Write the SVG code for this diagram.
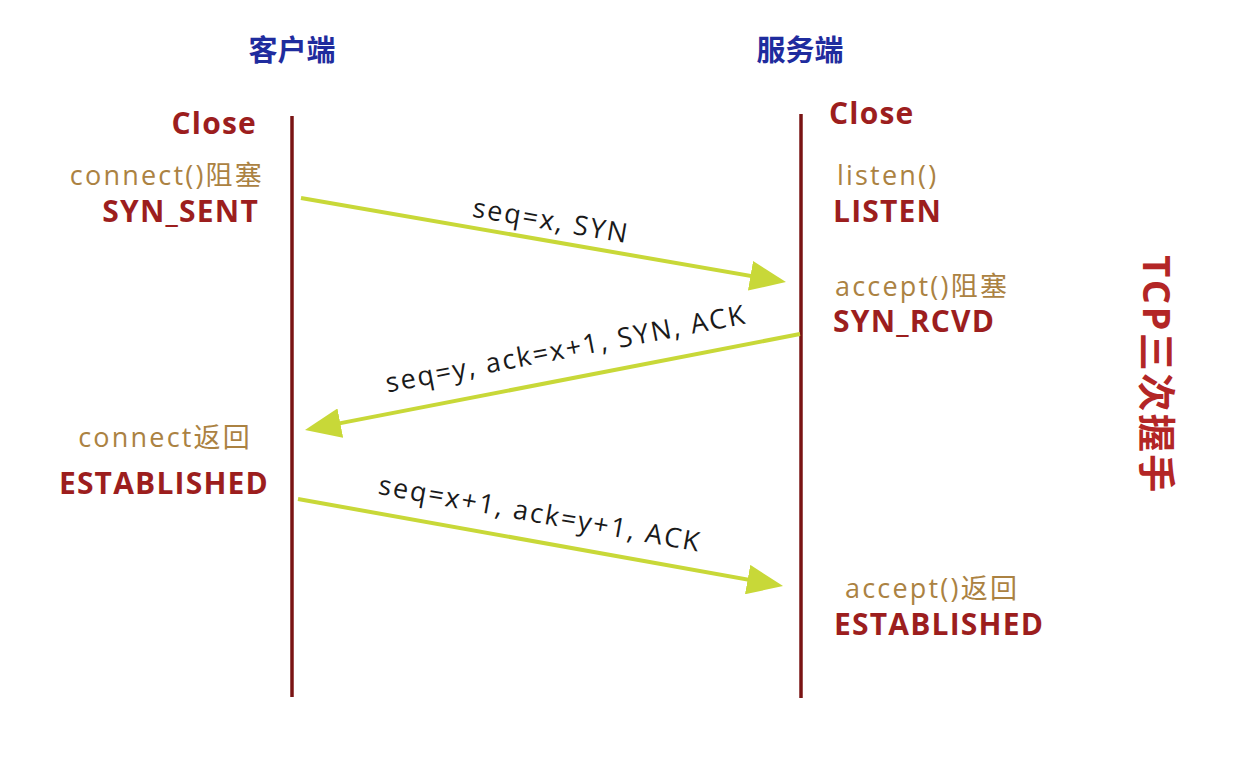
<svg xmlns="http://www.w3.org/2000/svg" width="1244" height="778" viewBox="0 0 1244 778">
<style>
.title{font-family:"Noto Sans CJK SC",sans-serif;font-weight:bold;font-size:29px;fill:#1f2c9e;text-anchor:middle}
.state{font-family:"Open Sans","Noto Sans CJK SC",sans-serif;font-weight:bold;font-size:30px;letter-spacing:1.2px;fill:#9c1e1e}
.call{font-family:"Open Sans","Noto Sans CJK SC",sans-serif;font-size:27px;letter-spacing:2.2px;fill:#ab8242}
.msg{font-family:"Open Sans",sans-serif;font-size:27px;letter-spacing:2px;fill:#1a1a1a;text-anchor:middle}
.life{stroke:#7a1414;stroke-width:3.5}
.arrow{stroke:#c8d838;stroke-width:4;fill:none;marker-end:url(#ah)}
.side{font-family:"Open Sans","Noto Sans CJK SC",sans-serif;font-weight:bold;font-size:38px;letter-spacing:2.5px;fill:#b32626;text-anchor:middle}
</style>
<defs>
<marker id="ah" viewBox="0 0 36 30" refX="26" refY="15" markerWidth="36" markerHeight="30" markerUnits="userSpaceOnUse" orient="auto">
<path d="M0,0 L36,15 L0,30 z" fill="#c8d838"/>
</marker>
</defs>
<rect width="1244" height="778" fill="#ffffff"/>
<g id="client">
<text class="title" x="292" y="61">客户端</text>
<line class="life" x1="292" y1="116" x2="292" y2="697"/>
<text class="state" x="257" y="134" text-anchor="end">Close</text>
<text class="call" x="264" y="185" text-anchor="end">connect()阻塞</text>
<text class="state" x="259" y="222" text-anchor="end">SYN_SENT</text>
<text class="call" x="252" y="447" text-anchor="end">connect返回</text>
<text class="state" x="269" y="494" text-anchor="end">ESTABLISHED</text>
</g>
<g id="server">
<text class="title" x="800" y="61">服务端</text>
<line class="life" x1="801" y1="114" x2="801" y2="698"/>
<text class="state" x="829" y="124">Close</text>
<text class="call" x="837" y="185">listen()</text>
<text class="state" x="833" y="222">LISTEN</text>
<text class="call" x="835" y="296">accept()阻塞</text>
<text class="state" x="833" y="332">SYN_RCVD</text>
<text class="call" x="845" y="598">accept()返回</text>
<text class="state" x="834" y="635">ESTABLISHED</text>
</g>
<g id="connectors">
<line class="arrow" x1="301" y1="198" x2="776.1" y2="280.3"/>
<line class="arrow" x1="800" y1="334" x2="314.8" y2="428.1"/>
<line class="arrow" x1="298" y1="499" x2="773.2" y2="584.2"/>
<text class="msg" transform="translate(551,221) rotate(9.8)" y="9">seq=x, SYN</text>
<text class="msg" transform="translate(566,349) rotate(-10.9)" y="9">seq=y, ack=x+1, SYN, ACK</text>
<text class="msg" transform="translate(540,514) rotate(10.2)" y="9">seq=x+1, ack=y+1, ACK</text>
</g>
<g id="side-title">
<text class="side" transform="translate(1156,375) rotate(90)" y="13">TCP三次握手</text>
</g>
</svg>
